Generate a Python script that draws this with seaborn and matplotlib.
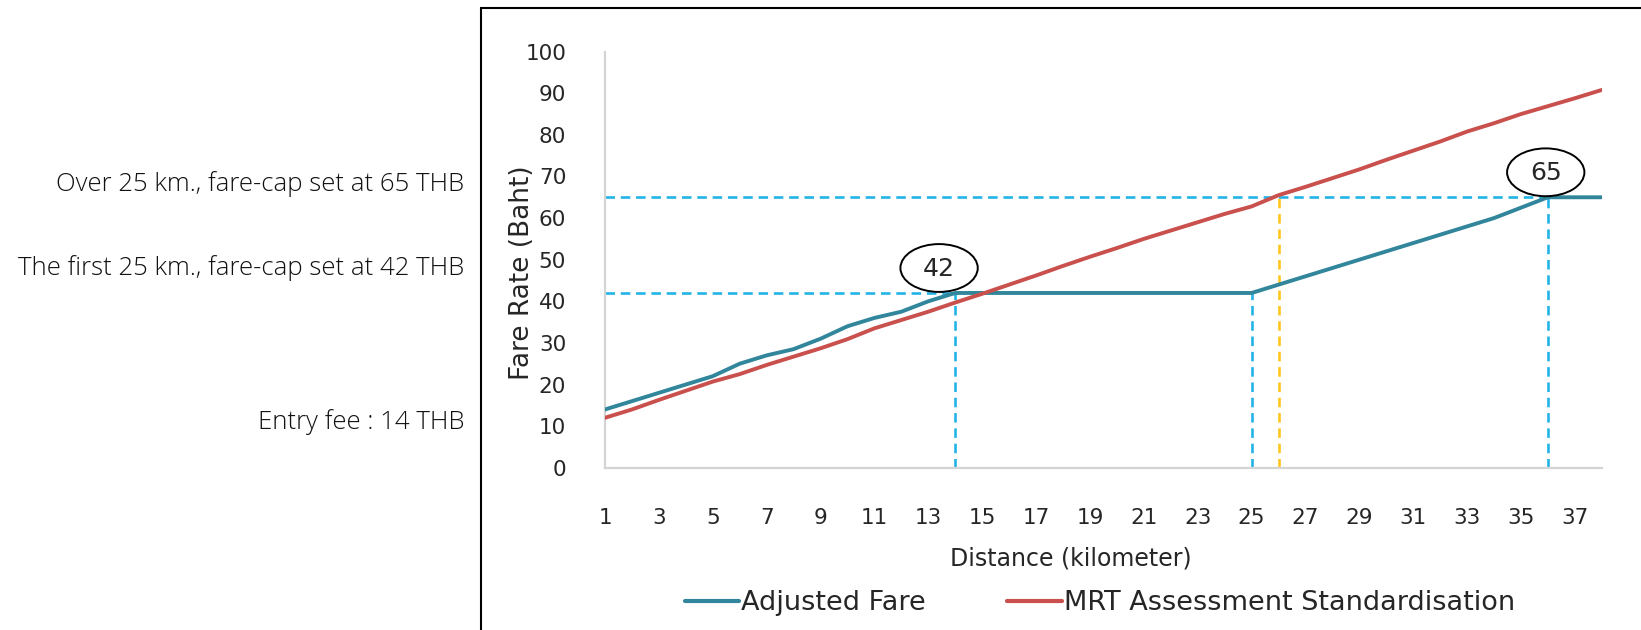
import matplotlib
matplotlib.use('Agg')
import matplotlib.pyplot as plt
import seaborn as sns
import pandas as pd
from matplotlib.patches import Ellipse, Rectangle

# fare per kilometre
km = list(range(1, 39))
adjusted_fare = [14, 16, 18, 20, 22, 25, 27, 28.5, 31, 34, 36, 37.5, 40, 42,
                 42, 42, 42, 42, 42, 42, 42, 42, 42, 42, 42,
                 44, 46, 48, 50, 52, 54, 56, 58, 60, 62.5, 65, 65, 65]
mrt_standard = [12, 14, 16.3, 18.5, 20.7, 22.5, 24.7, 26.7, 28.7, 30.9, 33.5, 35.5, 37.5, 39.7,
                41.8, 44, 46.2, 48.5, 50.7, 52.8, 55, 57, 59, 61, 62.8,
                65.5, 67.5, 69.6, 71.7, 74, 76.2, 78.4, 80.8, 82.8, 85, 86.9, 88.8, 90.8]
series_names = ['Adjusted Fare', 'MRT Assessment Standardisation']
caps = [42, 65]
first_cap_end = 25
y_ticks = list(range(0, 101, 10))
x_tick_labels = [str(k) if k % 2 else '' for k in km]
notes = ['Over 25 km., fare-cap set at 65 THB',
         'The first 25 km., fare-cap set at 42 THB',
         'Entry fee : 14 THB']

TEAL = '#31869B'
RED = '#C9504C'
CYAN = '#22B4E6'
YELLOW = '#FFC61E'
GREY = '#D4D4D4'

df = pd.DataFrame({
    'km': km * 2,
    'fare': adjusted_fare + mrt_standard,
    'series': [series_names[0]] * len(km) + [series_names[1]] * len(km),
})

sns.set_style('white')
plt.rcParams['font.family'] = ['DejaVu Sans']

fig = plt.figure(figsize=(16.41, 6.30), dpi=100)
ax = fig.add_axes([0.3687, 0.2576, 0.6074, 0.6604])

sns.lineplot(data=df, x='km', y='fare', hue='series', palette=[TEAL, RED],
             linewidth=2.8, ax=ax, zorder=3)

# dashed guide lines at the fare caps
dash = dict(lw=1.9, dashes=(3.6, 2.2), zorder=2)
cap_km = [km[adjusted_fare.index(c)] for c in caps]
for c, k in zip(caps, cap_km):
    ax.plot([km[0], k], [c, c], color=CYAN, **dash)
    ax.plot([k, k], [0, c], color=CYAN, **dash)
ax.plot([first_cap_end, first_cap_end], [0, caps[0]], color=CYAN, **dash)
cross = next(i for i, v in enumerate(mrt_standard) if v >= caps[1])
ax.plot([km[cross], km[cross]], [0, mrt_standard[cross]], color=YELLOW, **dash)

# circled cap values
for c, k, off in zip(caps, cap_km, [-0.6, -0.08]):
    ax.add_patch(Ellipse((k + off, c + 6), width=2.87, height=11.5,
                         fill=False, ec='black', lw=1.4, zorder=4))
    ax.text(k + off, c + 5.8, str(c), ha='center', va='center', fontsize=18, zorder=5)

ax.set_xlim(km[0], km[-1])
ax.set_ylim(0, 100)
ax.set_xticks(km)
ax.set_xticklabels(x_tick_labels)
ax.set_yticks(y_ticks)
ax.tick_params(axis='x', length=11, width=1.4, color=GREY, pad=18, labelsize=15.5)
ax.tick_params(axis='y', length=10, width=1.4, color=GREY, pad=18, labelsize=15.5)
for s in ['top', 'right']:
    ax.spines[s].set_visible(False)
for s in ['left', 'bottom']:
    ax.spines[s].set_color(GREY)
    ax.spines[s].set_linewidth(1.6)

ax.set_xlabel('Distance (kilometer)', fontsize=17)
ax.xaxis.set_label_coords(0.467, -0.19)
ax.set_ylabel('Fare Rate (Baht)', fontsize=19)
ax.yaxis.set_label_coords(-0.07, 0.468)

handles, labels = ax.get_legend_handles_labels()
leg = ax.legend(handles, labels, loc='center', ncol=2, frameon=False, fontsize=19.5,
                bbox_to_anchor=(1100 / 1641, 27 / 630), bbox_transform=fig.transFigure,
                handlelength=2.0, handletextpad=0.1, columnspacing=3.0)
for ln in leg.get_lines():
    ln.set_linewidth(3)

note_y = [184, 268, 422]
for t, yy in zip(notes, note_y):
    fig.text(464 / 1641, 1 - yy / 630, t, ha='right', va='center', fontsize=18.5,
             family=['Open Sans', 'DejaVu Sans'], fontweight='light', color='#111111')

fig.patches.append(Rectangle((481 / 1641, -0.05), 1.0, 1.05 - 7.5 / 630,
                             transform=fig.transFigure, fill=False, ec='black', lw=1.5))

fig.savefig('out.png', dpi=100)
